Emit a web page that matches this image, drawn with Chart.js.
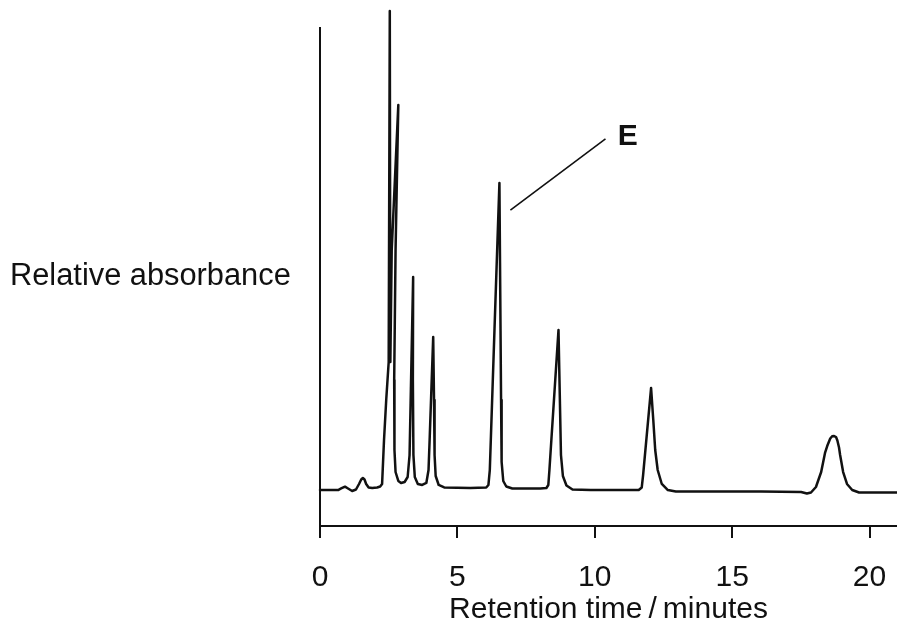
<!DOCTYPE html>
<html lang="en">
<head>
    <meta charset="UTF-8">
    <title>Chromatogram</title>
    <script src="https://cdn.jsdelivr.net/npm/chart.js@4.4.0/dist/chart.umd.min.js"></script>
    <style>
        body { margin: 0; background: #fff; }
        #wrap { width: 897px; height: 625px; position: relative; }
    </style>
</head>
<body>
    <div id="wrap"><canvas id="chrom"></canvas></div>

    <script>
        // retention time (minutes) and relative absorbance
        const times = [
            0, 0.66, 0.77, 0.91, 1.02, 1.17, 1.31, 1.42, 1.50, 1.56, 1.62, 1.68, 1.77, 1.90, 2.08, 2.19,
            2.26, 2.33, 2.41, 2.50, 2.54, 2.56, 2.61, 2.85, 2.75, 2.70, 2.71, 2.75, 2.85, 2.95, 3.08, 3.19,
            3.26, 3.30, 3.39, 3.38, 3.40, 3.45, 3.56, 3.72, 3.87, 3.95, 3.99, 4.12, 4.15, 4.17, 4.21, 4.32,
            4.52, 5.47, 6.05, 6.13, 6.18, 6.35, 6.53, 6.59, 6.61, 6.67, 6.78, 7.00,
            8.02, 8.24, 8.31, 8.35, 8.68, 8.77, 8.84, 8.97, 9.19, 9.85,
            11.60, 11.71, 11.76, 12.05, 12.13, 12.20, 12.29, 12.44, 12.66, 12.95,
            16.05, 17.51, 17.72, 17.87, 18.05, 18.24, 18.38, 18.46, 18.57, 18.64, 18.71, 18.78, 18.83, 18.89,
            18.93, 19.04, 19.18, 19.37, 19.62, 21.0
        ];
        const absorbance = [
            7.21, 7.21, 7.52, 7.88, 7.52, 7.01, 7.31, 8.42, 9.32, 9.62, 9.32, 8.42, 7.72, 7.62, 7.72, 7.92,
            8.42, 17.23, 25.25, 32.87, 103.2, 32.87, 55.31, 84.37, 55.31, 29.26, 15.23, 10.82, 9.02, 8.62, 8.82, 9.82,
            14.23, 25.25, 49.9, 29.26, 14.23, 9.82, 8.42, 8.22, 8.62, 11.22, 17.23, 37.88, 25.25, 14.23, 10.02, 8.22,
            7.72, 7.62, 7.72, 8.22, 11.22, 39.28, 68.74, 25.25, 12.83, 9.02, 7.92, 7.52,
            7.52, 7.62, 8.22, 11.22, 39.28, 14.23, 10.02, 8.12, 7.31, 7.21,
            7.21, 7.72, 10.22, 27.66, 21.24, 15.23, 11.22, 8.42, 7.21, 6.91,
            6.91, 6.81, 6.51, 6.71, 7.82, 10.82, 14.63, 16.03, 17.53, 17.98, 18.04, 17.83, 17.13, 15.73,
            14.23, 10.82, 8.42, 7.21, 6.71, 6.71
        ];
        const timeTicks = [0, 5, 10, 15, 20];

        // leader line and letter for peak E
        const peakE = { text: 'E', lineFrom: [6.93, 63.3], lineTo: [10.39, 77.6], at: [11.2, 78.0] };

        const FONT = '"Liberation Sans", Arial, Helvetica, sans-serif';
        const INK = '#111';

        const extras = {
            id: 'extras',
            afterDraw(chart) {
                const { ctx, chartArea, scales: { x, y } } = chart;
                ctx.save();
                // y axis line
                ctx.strokeStyle = INK;
                ctx.lineWidth = 2;
                ctx.beginPath();
                ctx.moveTo(chartArea.left, chartArea.top);
                ctx.lineTo(chartArea.left, chartArea.bottom);
                ctx.stroke();

                // y label, horizontal
                ctx.fillStyle = INK;
                ctx.font = '30.8px ' + FONT;
                ctx.textBaseline = 'alphabetic';
                ctx.textAlign = 'left';
                ctx.fillText('Relative absorbance', 10, 285);

                // E marker
                ctx.lineWidth = 1.6;
                ctx.beginPath();
                ctx.moveTo(x.getPixelForValue(peakE.lineFrom[0]), y.getPixelForValue(peakE.lineFrom[1]));
                ctx.lineTo(x.getPixelForValue(peakE.lineTo[0]), y.getPixelForValue(peakE.lineTo[1]));
                ctx.stroke();
                ctx.font = 'bold 30px ' + FONT;
                ctx.textAlign = 'center';
                ctx.textBaseline = 'middle';
                ctx.fillText(peakE.text, x.getPixelForValue(peakE.at[0]), y.getPixelForValue(peakE.at[1]));
                ctx.restore();
            }
        };

        new Chart(document.getElementById('chrom'), {
            type: 'line',
            data: {
                datasets: [{
                    data: times.map((t, i) => ({ x: t, y: absorbance[i] })),
                    borderColor: INK,
                    borderWidth: 2.5,
                    borderJoinStyle: 'round',
                    borderCapStyle: 'round',
                    pointRadius: 0,
                    tension: 0,
                    fill: false,
                    clip: false
                }]
            },
            options: {
                responsive: true,
                maintainAspectRatio: false,
                animation: false,
                layout: { padding: { left: 320, top: 27, right: 0, bottom: 0 } },
                plugins: { legend: { display: false }, tooltip: { enabled: false } },
                scales: {
                    x: {
                        type: 'linear',
                        min: 0,
                        max: 21,
                        afterBuildTicks: s => { s.ticks = timeTicks.map(v => ({ value: v })); },
                        afterFit: s => { s.height = 99; s.paddingLeft = 0; s.paddingRight = 0; },
                        grid: { drawOnChartArea: false, drawTicks: true, tickLength: 12, color: INK, lineWidth: 2 },
                        border: { display: true, color: INK, width: 2 },
                        ticks: { color: INK, padding: 22, font: { family: FONT, size: 30 }, maxRotation: 0 },
                        title: {
                            display: true,
                            text: 'Retention time\u2009/\u2009minutes',
                            color: INK,
                            padding: 0,
                            font: { family: FONT, size: 30, lineHeight: 1 }
                        }
                    },
                    y: {
                        display: false,
                        min: 0,
                        max: 100
                    }
                }
            },
            plugins: [extras]
        });
    </script>
</body>
</html>
